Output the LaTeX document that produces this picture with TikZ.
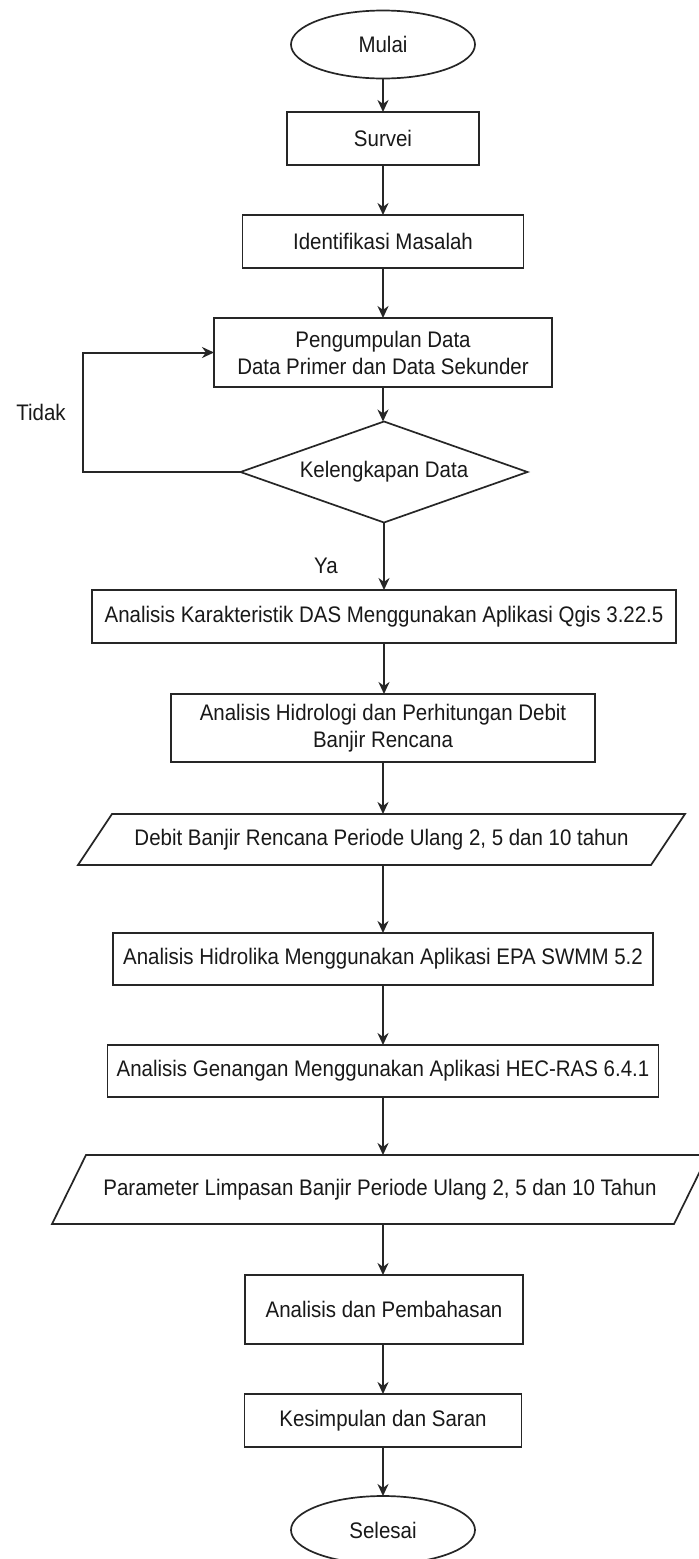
\documentclass[tikz,border=0pt]{standalone}
\usepackage{fontspec}
\setmainfont{Liberation Sans}[FakeStretch=0.91]
\usetikzlibrary{shapes.geometric,arrows.meta}
\begin{document}
\begin{tikzpicture}[x=1pt,y=-1pt,
  every node/.style={font=\fontsize{22.5}{27}\selectfont, inner sep=0pt, outer sep=0pt, text=black!90},
  box/.style={draw=black!85, line width=1.7pt, minimum height=53pt},
  term/.style={ellipse, draw=black!85, line width=1.7pt, minimum width=184pt, minimum height=68pt},
  arr/.style={draw=black!85, line width=2pt, -{Stealth[length=12pt,width=11pt]}},
  shapeline/.style={draw=black!85, line width=1.7pt, line join=miter}
]
\clip (0,0) rectangle (699,1559);
\fill[white] (0,0) rectangle (699,1559);

\node[term] (mulai) at (383,44.5) {Mulai};
\node[box, minimum width=192pt] (survei) at (383,138.5) {Survei};
\node[box, minimum width=281pt] (ident) at (383,241.5) {Identifikasi Masalah};
\node[box, minimum width=338pt, minimum height=69pt, align=center] (kumpul) at (383,352.5) {Pengumpulan Data\\Data Primer dan Data Sekunder};
\node[minimum width=287pt, minimum height=101pt] (keleng) at (384,472) {Kelengkapan Data};
\draw[shapeline] (keleng.north) -- (keleng.east) -- (keleng.south) -- (keleng.west) -- cycle;
\node (tidak) at (41,412) {Tidak};
\node (ya) at (326,566) {Ya};
\node[box, minimum width=584pt] (karak) at (384,616.5) {Analisis Karakteristik DAS Menggunakan Aplikasi Qgis 3.22.5};
\node[box, minimum width=424pt, minimum height=68pt, align=center] (hidro) at (383,728) {Analisis Hidrologi dan Perhitungan Debit\\Banjir Rencana};
\node[minimum width=607pt, minimum height=51pt] (debit) at (381.5,839.5) {Debit Banjir Rencana Periode Ulang 2, 5 dan 10 tahun};
\draw[shapeline] ([xshift=34pt]debit.north west) -- (debit.north east) -- ([xshift=-34pt]debit.south east) -- (debit.south west) -- cycle;
\node[box, minimum width=540pt, minimum height=52pt] (hidrolika) at (383,959) {Analisis Hidrolika Menggunakan Aplikasi EPA SWMM 5.2};
\node[box, minimum width=551pt, minimum height=52pt] (genangan) at (383,1071) {Analisis Genangan Menggunakan Aplikasi HEC-RAS 6.4.1};
\node[minimum width=656pt, minimum height=69pt] (param) at (380,1189.5) {Parameter Limpasan Banjir Periode Ulang 2, 5 dan 10 Tahun};
\draw[shapeline] ([xshift=34pt]param.north west) -- (param.north east) -- ([xshift=-34pt]param.south east) -- (param.south west) -- cycle;
\node[box, minimum width=278pt, minimum height=69pt] (bahas) at (384,1309.5) {Analisis dan Pembahasan};
\node[box, minimum width=277pt] (simpul) at (383,1420.5) {Kesimpulan dan Saran};
\node[term] (selesai) at (383,1530) {Selesai};

\coordinate (loopb) at (83,472);
\coordinate (loopt) at (83,352.5);

\draw[arr] (mulai) -- (survei);
\draw[arr] (survei) -- (ident);
\draw[arr] (ident) -- (kumpul);
\draw[arr] (kumpul.south) -- (kumpul.south |- keleng.north);
\draw[arr] (keleng.south -| karak.north) -- (karak.north);
\draw[arr] (karak.south) -- (karak.south |- hidro.north);
\draw[arr] (hidro.south) -- (hidro.south |- debit.north);
\draw[arr] (hidro.south |- debit.south) -- (hidro.south |- hidrolika.north);
\draw[arr] (hidrolika) -- (genangan);
\draw[arr] (genangan.south) -- (genangan.south |- param.north);
\draw[arr] (genangan.south |- param.south) -- (genangan.south |- bahas.north);
\draw[arr] (bahas.south) -- (bahas.south -| simpul.north) -- (simpul.north);
\draw[arr] (simpul) -- (selesai);
\draw[arr, line join=miter] (keleng.west) -- (loopb) -- (loopt) -- (kumpul.west);
\end{tikzpicture}
\end{document}
